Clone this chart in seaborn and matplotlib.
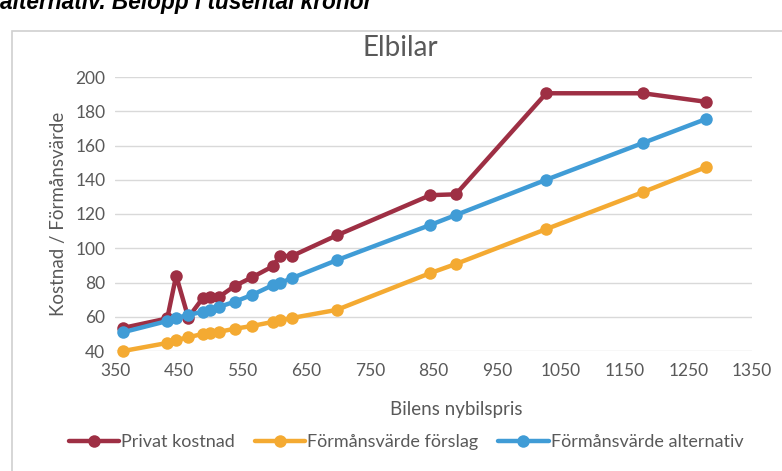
import pandas as pd
import seaborn as sns
from matplotlib import pyplot as plt
from matplotlib.patches import Rectangle

# Bilens nybilspris (tusental kronor)
pris = [363, 432, 446, 465, 488, 499, 513, 538, 565, 598, 609, 628, 698,
        845, 885, 1027, 1179, 1278]

# Values per series (tusental kronor)
privat_kostnad = [53.5, 59, 84, 59.5, 71, 71.5, 71.5, 78, 83, 89.5, 95.5, 95.5,
                  107.5, 131, 131.5, 190.5, 190.5, 185.5]
forslag = [40, 44.7, 46.4, 48, 50, 50.8, 51.2, 53, 54.6, 57, 58, 59.3, 64,
           85.5, 90.8, 111.2, 132.8, 147.4]
alternativ = [51, 57.5, 59.3, 61, 63, 64, 65.7, 68.8, 72.7, 78.5, 79.7, 82.6,
              93, 113.6, 119.4, 140, 161.5, 175.5]

series = ["Privat kostnad", "Förmånsvärde förslag", "Förmånsvärde alternativ"]
colors = ["#9E2F44", "#F4AA32", "#409CD6"]

frames = []
for name, values in zip(series, [privat_kostnad, forslag, alternativ]):
    frames.append(pd.DataFrame({"Pris": pris, "Värde": values, "Serie": name}))
df = pd.concat(frames, ignore_index=True)

sns.set_style("white")
plt.rcParams["font.family"] = ["Lato", "DejaVu Sans"]

fig = plt.figure(figsize=(7.82, 4.71), dpi=100)

# Chart frame (Excel-like border)
fig.patches.append(Rectangle((12 / 782, -0.05), 1.0, 1 - 31 / 471 + 0.05,
                             transform=fig.transFigure, fill=False,
                             edgecolor="#d0d0d0", linewidth=1.2))

# Cut-off heading from the document above the chart
fig.text(0.0, 1 - 3 / 471, "alternativ. Belopp i tusental kronor",
         family="Liberation Sans", fontsize=16.3, fontweight="bold",
         fontstyle="italic", color="black", va="center", ha="left")

ax = fig.add_axes([115 / 782, 1 - 351 / 471, (752 - 115) / 782, (351 - 77) / 471])

sns.lineplot(data=df, x="Pris", y="Värde", hue="Serie", palette=colors,
             marker="o", markersize=9, markeredgewidth=0, linewidth=3.2,
             ax=ax, legend=False, clip_on=False)

ax.set_xlim(350, 1350)
ax.set_ylim(40, 200)
ax.set_xticks(range(350, 1351, 100))
ax.set_yticks(range(40, 201, 20))
ax.tick_params(axis="both", length=0, labelsize=12.5, labelcolor="#595959")
ax.tick_params(axis="y", pad=7)
ax.tick_params(axis="x", pad=9)
ax.yaxis.grid(True, color="#d9d9d9", linewidth=1)
ax.xaxis.grid(False)
for side in ["top", "right", "left", "bottom"]:
    ax.spines[side].set_visible(False)

fig.text(400 / 782, 1 - 48 / 471, "Elbilar", fontsize=20, color="#595959",
         ha="center", va="center")
fig.text(456 / 782, 1 - 410 / 471, "Bilens nybilspris", fontsize=13.5,
         color="#595959", ha="center", va="center")
ax.set_xlabel("")
ax.set_ylabel("Kostnad / Förmånsvärde", fontsize=13.5, color="#595959", labelpad=6)

handles = [plt.Line2D([], [], color=c, linewidth=3.2, marker="o", markersize=9,
                      markeredgewidth=0) for c in colors]
fig.legend(handles, series, loc="center", bbox_to_anchor=(406 / 782, 1 - 442 / 471),
           ncol=3, frameon=False, fontsize=13, labelcolor="#595959",
           handlelength=2.8, handletextpad=0.1, columnspacing=1.1)

fig.savefig("out.png", dpi=100)
